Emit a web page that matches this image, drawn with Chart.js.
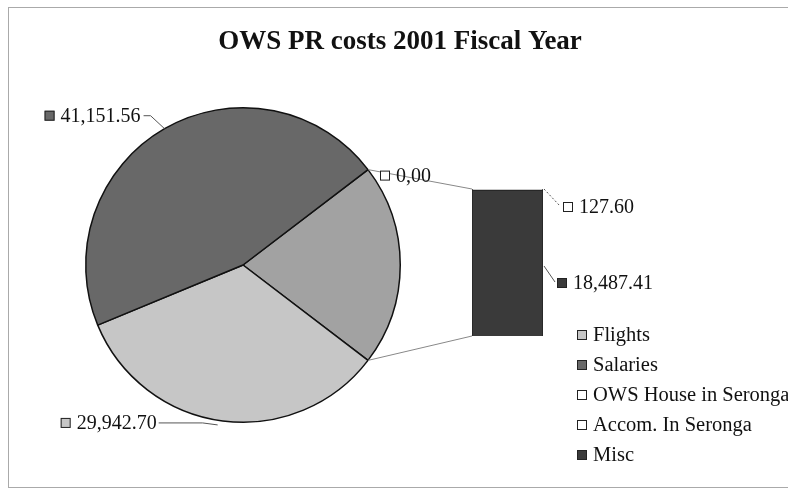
<!DOCTYPE html>
<html>
<head>
<meta charset="utf-8">
<title>OWS PR costs 2001 Fiscal Year</title>
<script src="https://cdn.jsdelivr.net/npm/chart.js@4.4.0/dist/chart.umd.min.js"></script>
<style>
  body { margin: 0; background: #fff; }
  #wrap { position: relative; width: 788px; height: 494px; }
  #wrap canvas { position: absolute; left: 0; top: 0; }
</style>
</head>
<body>
<div id="wrap">
  <canvas id="pieChart" width="788" height="494"></canvas>
  <canvas id="barChart" width="788" height="494"></canvas>
</div>
<script>
// data
const chartTitle = 'OWS PR costs 2001 Fiscal Year'
const categories = ['Flights', 'Salaries', 'OWS House in Seronga', 'Accom. In Seronga', 'Misc']
const costs = [29942.70, 41151.56, 0.00, 127.60, 18487.41]
const costLabels = ['29,942.70', '41,151.56', '0,00', '127.60', '18,487.41']
const keyColors = ['#c6c6c6', '#686868', '#ffffff', '#ffffff', '#3a3a3a']
const otherColor = '#a2a2a2'

// the last three go into the bar, the pie gets their sum as one slice
const otherTotal = costs[2] + costs[3] + costs[4]
const grandTotal = costs[0] + costs[1] + otherTotal
const otherAngle = 360 * otherTotal / grandTotal

const FONT = '"Liberation Serif", "Times New Roman", serif'

// small legend key square
function drawKey(ctx, x, y, color) {
    ctx.fillStyle = color
    ctx.fillRect(x, y - 5, 10, 10)
    ctx.strokeStyle = '#222'
    ctx.lineWidth = 1
    ctx.strokeRect(x + 0.5, y - 4.5, 9, 9)
}

// key + value text, x is the left edge of the key
function drawLabel(ctx, text, color, x, y) {
    drawKey(ctx, x, y, color)
    ctx.font = '20px ' + FONT
    ctx.fillStyle = '#111'
    ctx.textAlign = 'left'
    ctx.textBaseline = 'middle'
    ctx.fillText(text, x + 16, y + 1)
}

// same, but x is the right edge of the text
function drawLabelRight(ctx, text, color, x, y) {
    ctx.font = '20px ' + FONT
    const w = ctx.measureText(text).width
    drawLabel(ctx, text, color, x - w - 16, y)
}

function line(ctx, points, color, dash) {
    ctx.save()
    ctx.strokeStyle = color
    ctx.lineWidth = 1
    ctx.setLineDash(dash || [])
    ctx.beginPath()
    ctx.moveTo(points[0][0], points[0][1])
    for (let i = 1; i < points.length; i++) ctx.lineTo(points[i][0], points[i][1])
    ctx.stroke()
    ctx.restore()
}

function edgePoint(arc, angle) {
    return [arc.x + Math.cos(angle) * arc.outerRadius, arc.y + Math.sin(angle) * arc.outerRadius]
}

// title, frame, pie labels and legend
const pieDecor = {
    id: 'pieDecor',
    afterDraw(chart) {
        const ctx = chart.ctx
        ctx.save()

        ctx.strokeStyle = '#aaa'
        ctx.lineWidth = 1
        ctx.strokeRect(8.5, 7.5, 800, 480)

        ctx.font = 'bold 27px ' + FONT
        ctx.fillStyle = '#111'
        ctx.textAlign = 'center'
        ctx.textBaseline = 'middle'
        ctx.fillText(chartTitle, 400, 42)

        const arcs = chart.getDatasetMeta(0).data

        // Salaries
        let a = arcs[2]
        let p = edgePoint(a, (a.startAngle + a.endAngle) / 2)
        line(ctx, [p, [p[0] - 14, p[1] - 13], [p[0] - 21, p[1] - 13]], '#555')
        drawLabelRight(ctx, costLabels[1], keyColors[1], p[0] - 24, p[1] - 13)

        // Flights
        a = arcs[1]
        p = edgePoint(a, (a.startAngle + a.endAngle) / 2)
        line(ctx, [[p[0] - 5, p[1] + 4], [p[0] - 20, p[1] + 2], [p[0] - 64, p[1] + 2]], '#555')
        drawLabelRight(ctx, costLabels[0], keyColors[0], p[0] - 66, p[1] + 2)

        // legend
        categories.forEach((name, i) => {
            const y = 335 + i * 30
            drawKey(ctx, 577, y, keyColors[i])
            ctx.font = '20.5px ' + FONT
            ctx.fillStyle = '#111'
            ctx.textAlign = 'left'
            ctx.textBaseline = 'middle'
            ctx.fillText(name, 593, y + 1)
        })

        ctx.restore()
    }
}

const pieChart = new Chart(document.getElementById('pieChart'), {
    type: 'pie',
    data: {
        labels: ['Other', categories[0], categories[1]],
        datasets: [{
            data: [otherTotal, costs[0], costs[1]],
            backgroundColor: [otherColor, keyColors[0], keyColors[1]],
            borderColor: '#111',
            borderWidth: 1.5,
            hoverOffset: 0
        }]
    },
    options: {
        responsive: false,
        animation: false,
        devicePixelRatio: 1,
        rotation: 90 - otherAngle / 2,
        layout: { padding: { left: 85, right: 387, top: 106, bottom: 70 } },
        plugins: { legend: { display: false }, tooltip: { enabled: false } }
    },
    plugins: [pieDecor]
})

// connector lines from the pie slice to the bar, and the bar labels
const barDecor = {
    id: 'barDecor',
    afterDraw(chart) {
        const ctx = chart.ctx
        const misc = chart.getDatasetMeta(0).data[0]
        const accom = chart.getDatasetMeta(1).data[0]
        const left = misc.x - misc.width / 2
        const right = misc.x + misc.width / 2
        const top = accom.y

        const slice = pieChart.getDatasetMeta(0).data[0]
        const pStart = edgePoint(slice, slice.startAngle)
        const pEnd = edgePoint(slice, slice.endAngle)
        line(ctx, [pStart, [left, top]], '#888')
        line(ctx, [pEnd, [left, misc.base]], '#888')

        // OWS House, zero value
        drawLabel(ctx, costLabels[2], keyColors[2], pStart[0] + 12, pStart[1] + 6)

        // Accom.
        line(ctx, [[right + 1, top], [right + 17, top + 17]], '#555', [2, 2])
        drawLabel(ctx, costLabels[3], keyColors[3], right + 20, top + 18)

        // Misc
        const cy = (misc.y + misc.base) / 2
        line(ctx, [[right + 1, cy + 3], [right + 12, cy + 19]], '#555')
        drawLabel(ctx, costLabels[4], keyColors[4], right + 14, cy + 20)
    }
}

new Chart(document.getElementById('barChart'), {
    type: 'bar',
    data: {
        labels: ['Other'],
        datasets: [
            { label: categories[4], data: [costs[4]], backgroundColor: keyColors[4] },
            { label: categories[3], data: [costs[3]], backgroundColor: keyColors[3] },
            { label: categories[2], data: [costs[2]], backgroundColor: keyColors[2] }
        ]
    },
    options: {
        responsive: false,
        animation: false,
        devicePixelRatio: 1,
        datasets: { bar: { barPercentage: 1, categoryPercentage: 1, borderColor: '#222', borderWidth: 1 } },
        layout: { padding: { left: 472, right: 245, top: 189, bottom: 158 } },
        scales: {
            x: { display: false, stacked: true },
            y: { display: false, stacked: true, min: 0, max: otherTotal }
        },
        plugins: { legend: { display: false }, tooltip: { enabled: false } }
    },
    plugins: [barDecor]
})
</script>
</body>
</html>
